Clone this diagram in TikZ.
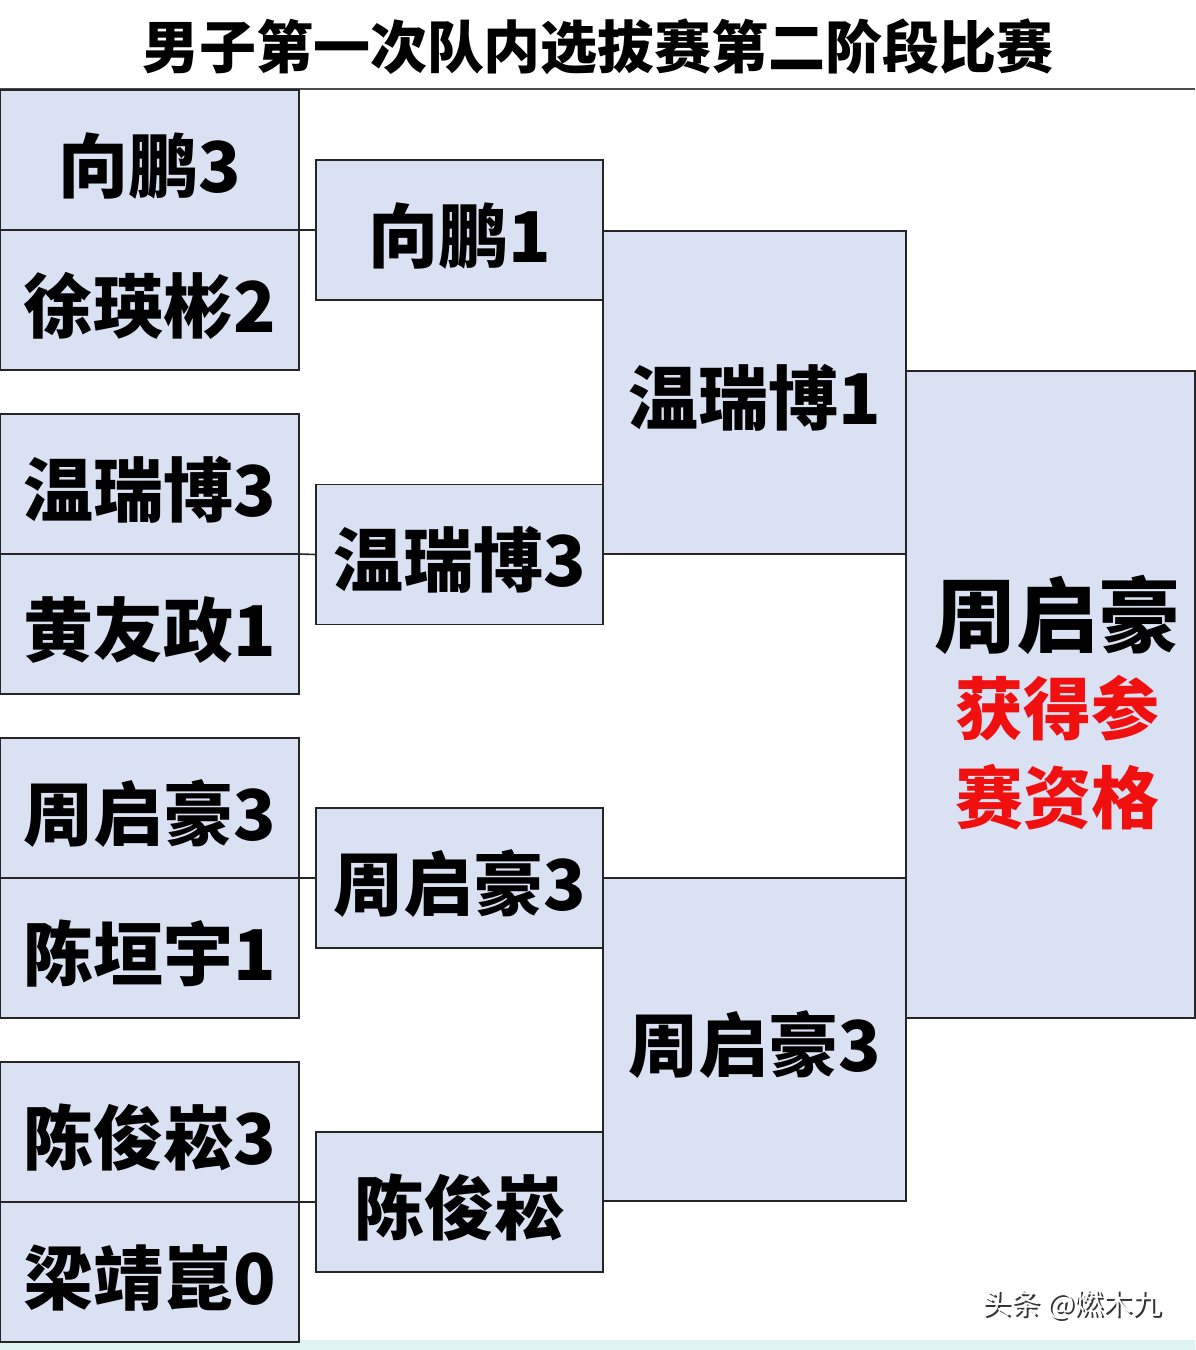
\documentclass[tikz,border=0pt]{standalone}
\usepackage{fontspec}
\newfontfamily\cjk{Noto Sans CJK SC}
\definecolor{boxfill}{HTML}{D9E1F2}
\definecolor{wred}{HTML}{F01010}
\definecolor{band}{HTML}{DDF4F3}
\begin{document}
\begin{tikzpicture}[x=1pt,y=-1pt,
  pbox/.style={draw=black!85, line width=1.6pt, fill=boxfill, inner sep=0pt, outer sep=0pt,
    font=\cjk\bfseries\fontsize{70}{74}\selectfont, text=black, text height=64pt, text depth=0pt},
  col1/.style={pbox, minimum width=299pt, minimum height=140pt},
  col2/.style={pbox, minimum width=287pt, minimum height=140pt},
  col3/.style={pbox, minimum width=303pt, minimum height=323pt},
  link/.style={draw=black!85, line width=1.6pt},
  big/.style={inner sep=0pt, font=\cjk\bfseries\fontsize{82}{86}\selectfont},
  redtxt/.style={inner sep=0pt, text=wred, font=\cjk\bfseries\fontsize{68}{72}\selectfont}]
\fill[white] (0,0) rectangle (1195,1350);
\useasboundingbox (0,0) rectangle (1195,1350);
\fill[band] (0,1340) rectangle (1195,1350);
% title
\node[inner sep=0pt, font=\cjk\bfseries\fontsize{57}{60}\selectfont] (title) at (598,47) {男子第一次队内选拔赛第二阶段比赛};
\draw[draw=black!70, line width=2pt] (0,89) -- (1195,89);
% final box
\node[pbox, minimum width=289pt, minimum height=647pt] (d) at (1050.5,694.5) {};
% column 3
\node[col3] (c1) at (754.5,392.5) {温瑞博1};
\node[col3] (c2) at (754.5,1039.5) {周启豪3};
% column 2
\node[col2] (b1) at (459.5,230) {向鹏1};
\node[col2] (b2) at (459.5,554.5) {温瑞博3};
\node[col2] (b3) at (459.5,878) {周启豪3};
\node[col2] (b4) at (459.5,1202) {陈俊崧};
% column 1
\node[col1] (a1) at (149.5,160) {向鹏3};
\node[col1] (a2) at (149.5,300) {徐瑛彬2};
\node[col1] (a3) at (149.5,484) {温瑞博3};
\node[col1] (a4) at (149.5,624) {黄友政1};
\node[col1] (a5) at (149.5,808) {周启豪3};
\node[col1] (a6) at (149.5,948) {陈垣宇1};
\node[col1] (a7) at (149.5,1132) {陈俊崧3};
\node[col1] (a8) at (149.5,1272) {梁靖崑0};
% connectors
\draw[link] (a1.south east) -- (b1.west);
\draw[link] (a3.south east) -- (b2.west);
\draw[link] (a5.south east) -- (b3.west);
\draw[link] (a7.south east) -- (b4.west);
\draw[link] (b1.east) -- (c1.north west);
\draw[link] (b3.east) -- (c2.north west);
% final texts
\node[big] (w1) at (1057,615) {周启豪};
\node[redtxt] (w2) at (1057,708) {获得参};
\node[redtxt] (w3) at (1057,797) {赛资格};
% watermark
\node[inner sep=0pt, text=black!80, font=\cjk\fontsize{29}{31}\selectfont] (wms) at (1074,1307) {头条 @燃木九};
\node[inner sep=0pt, text=white, font=\cjk\fontsize{29}{31}\selectfont] (wm) at (1072,1305) {头条 @燃木九};
\end{tikzpicture}
\end{document}
